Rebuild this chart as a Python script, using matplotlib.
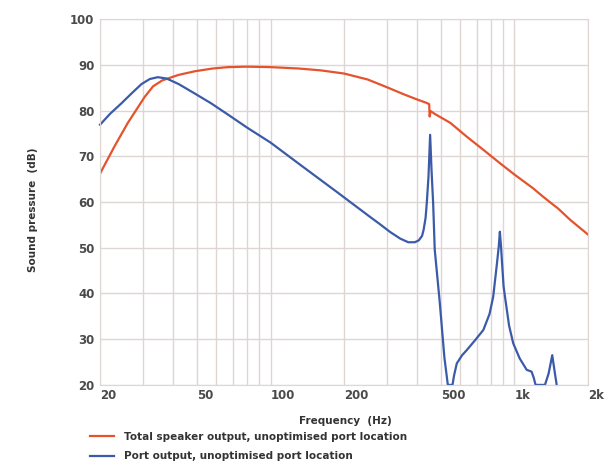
import matplotlib
matplotlib.use("Agg")
from matplotlib import pyplot as plt

# ---------------------------------------------------------------- data
total_freq = [20, 23, 26, 30.5, 33, 36, 42, 49, 58, 67, 80, 100, 130, 160, 200,
              250, 300, 350, 400, 435, 447, 449, 453, 470, 546, 637, 750, 871,
              1000, 1192, 1300, 1441, 1500, 1700, 2000]
total_db = [66.2, 72.3, 77.3, 83.0, 85.3, 86.6, 87.8, 88.6, 89.2, 89.5, 89.6, 89.5,
            89.2, 88.8, 88.1, 86.8, 85.1, 83.6, 82.4, 81.7, 81.4, 78.7, 79.9, 79.3,
            77.3, 74.3, 71.3, 68.5, 66.0, 63.0, 61.3, 59.4, 58.7, 56.0, 52.9]

port_freq = [20, 22, 24.5, 27, 29.6, 32, 34.5, 37.5, 42, 49, 57, 67, 80, 100, 135,
             187, 255, 280, 310, 340, 367, 390, 405, 418, 424, 432, 437, 444, 451,
             457, 464, 471, 494, 516, 533, 557, 565, 580, 610, 637, 690, 745, 790,
             818, 848, 862, 871, 880, 889, 902, 914, 950, 988, 1050, 1122, 1175,
             1200, 1220, 1333, 1380, 1428, 1460, 1489]
port_db = [76.9, 79.3, 81.6, 83.8, 85.8, 86.9, 87.3, 87.0, 85.8, 83.7, 81.6, 79.1,
           76.3, 73.0, 67.8, 62.2, 56.8, 55.2, 53.4, 52.0, 51.2, 51.2, 51.6, 52.6,
           53.9, 56.5, 59.8, 65.5, 74.7, 67.0, 59.8, 49.6, 38.0, 26.0, 20.0, 20.0,
           22.0, 24.7, 26.5, 27.6, 29.8, 32.0, 35.5, 39.3, 46.7, 50.3, 53.5, 50.5,
           46.7, 41.6, 39.3, 33.0, 29.1, 25.8, 23.3, 22.9, 21.5, 20.0, 20.0, 22.5,
           26.5, 23.0, 20.0]

grid_freqs = [20, 30, 40, 50, 60, 70, 80, 90, 100,
              200, 300, 400, 500, 600, 700, 800, 900, 1000, 2000]
freq_labels = {20: "20", 50: "50", 100: "100", 200: "200", 500: "500",
               1000: "1k", 2000: "2k"}
db_ticks = [20, 30, 40, 50, 60, 70, 80, 90, 100]

# ---------------------------------------------------------------- plot
red = "#e5532d"
blue = "#3b5ba9"
grid_col = "#ddd6d3"
txt_col = "#4a4a4a"

fig = plt.figure(figsize=(6.08, 4.66), dpi=100)
ax = fig.add_axes([0.1645, 0.174, 0.8025, 0.785])

ax.plot(total_freq, total_db, color=red, lw=1.6,
        label="Total speaker output, unoptimised port location")
ax.plot(port_freq, port_db, color=blue, lw=1.6, clip_on=False,
        label="Port output, unoptimised port location")

ax.set_xscale("log")
ax.set_xlim(20, 2000)
ax.set_ylim(20, 100)
ax.minorticks_off()
ax.set_xticks(grid_freqs)
ax.set_xticklabels([freq_labels.get(f, "") for f in grid_freqs])
ax.set_yticks(db_ticks)
ax.grid(True, color=grid_col, lw=1.0)
ax.set_axisbelow(True)
for s in ax.spines.values():
    s.set_color(grid_col)
ax.tick_params(length=0, labelsize=8.5, labelcolor=txt_col)
ax.tick_params(axis="y", pad=4)
ax.tick_params(axis="x", pad=3)
for lab in ax.get_xticklabels():
    lab.set_ha("left")
    lab.set_fontweight("bold")
for lab in ax.get_yticklabels():
    lab.set_fontweight("bold")

fig.text(0.568, 0.096, "Frequency  (Hz)", ha="center", va="center",
         fontsize=7.5, fontweight="bold", color="#333333")
fig.text(0.054, 0.55, "Sound pressure  (dB)", ha="center", va="center",
         rotation=90, fontsize=7.5, fontweight="bold", color="#333333")

fig.legend(loc="upper left", bbox_to_anchor=(0.148, 0.074), frameon=False,
           handlelength=2.3, handletextpad=1.0, labelspacing=0.95,
           borderaxespad=0, borderpad=0,
           prop=dict(size=7.5, weight="bold"), labelcolor="#333333")

fig.savefig("out.png", dpi=100)
